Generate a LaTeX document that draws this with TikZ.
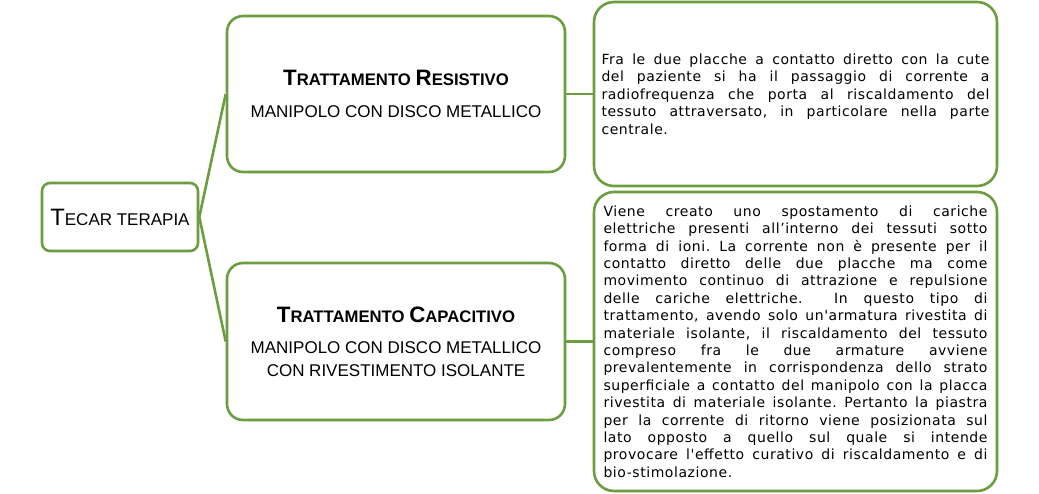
\documentclass[tikz,border=0pt]{standalone}
\usepackage{fontspec}
\usepackage{tikz}
\usetikzlibrary{positioning}

\setmainfont{Liberation Sans}
\newfontfamily\bodyfont[LetterSpace=4]{DejaVu Sans}
\definecolor{tecargreen}{RGB}{108,157,65}

% maiuscoletto finto: lettera grande + resto piu' piccolo
\newcommand\capbig[2]{{\fontsize{22.3}{24}\selectfont #1}{\fontsize{16.7}{20}\selectfont #2}}
\newcommand\subfont{\fontsize{17}{23}\selectfont}
\newcommand\descfont{\bodyfont\fontsize{14}{17.4}\selectfont\tolerance=10000\relax\hyphenpenalty=10000\relax\frenchspacing}

\begin{document}
\begin{tikzpicture}[x=1pt, y=-1pt,
    box/.style={draw=tecargreen, line width=2.6pt, fill=white, align=center, inner sep=4pt},
    testo/.style={box, rounded corners=20pt, align=justify, inner xsep=7.5pt, font=\descfont},
    link/.style={draw=tecargreen, line width=2.6pt}]
  \useasboundingbox (0,0) rectangle (1039,493);

  \node[box, rounded corners=8pt, minimum width=156pt, minimum height=68pt] (tecar) at (120,217)
    {{\fontsize{23.7}{24}\selectfont T}{\fontsize{17}{20}\selectfont ECAR TERAPIA}};

  \node[box, rounded corners=16pt, minimum width=338pt, minimum height=156pt, font=\subfont] (resistivo) at (396,94)
    {\textbf{\capbig{T}{RATTAMENTO} \capbig{R}{ESISTIVO}}\\[9pt]
     MANIPOLO CON DISCO METALLICO};
  \node[box, rounded corners=16pt, minimum width=338pt, minimum height=157pt, font=\subfont] (capacitivo) at (396,341.5)
    {\textbf{\capbig{T}{RATTAMENTO} \capbig{C}{APACITIVO}}\\[8pt]
     MANIPOLO CON DISCO METALLICO\\
     CON RIVESTIMENTO ISOLANTE};

  \node[testo, text width=388pt, minimum width=403pt, minimum height=184pt] (descres) at (795.5,94)
    {Fra le due placche a contatto diretto con la cute\linebreak
     del paziente si ha il passaggio di corrente a\linebreak
     radiofrequenza che porta al riscaldamento del\linebreak
     tessuto attraversato, in particolare nella parte\linebreak
     centrale.};
  \node[testo, text width=384pt, minimum width=403pt, minimum height=299pt] (desccap) at (795.5,341.5)
    {Viene creato uno spostamento di cariche\linebreak
     elettriche presenti all’interno dei tessuti sotto\linebreak
     forma di ioni. La corrente non è presente per il\linebreak
     contatto diretto delle due placche ma come\linebreak
     movimento continuo di attrazione e repulsione\linebreak
     delle cariche elettriche.~ In questo tipo di\linebreak
     trattamento, avendo solo un'armatura rivestita di\linebreak
     materiale isolante, il riscaldamento del tessuto\linebreak
     compreso fra le due armature avviene\linebreak
     prevalentemente in corrispondenza dello strato\linebreak
     superficiale a contatto del manipolo con la placca\linebreak
     rivestita di materiale isolante. Pertanto la piastra\linebreak
     per la corrente di ritorno viene posizionata sul\linebreak
     lato opposto a quello sul quale si intende\linebreak
     provocare l'effetto curativo di riscaldamento e di\linebreak
     bio-stimolazione.};

  \draw[link] (tecar.east) -- (resistivo.west);
  \draw[link] (tecar.east) -- (capacitivo.west);
  \draw[link] (resistivo.east) -- (descres.west);
  \draw[link] (capacitivo.east) -- (desccap.west);
\end{tikzpicture}
\end{document}
